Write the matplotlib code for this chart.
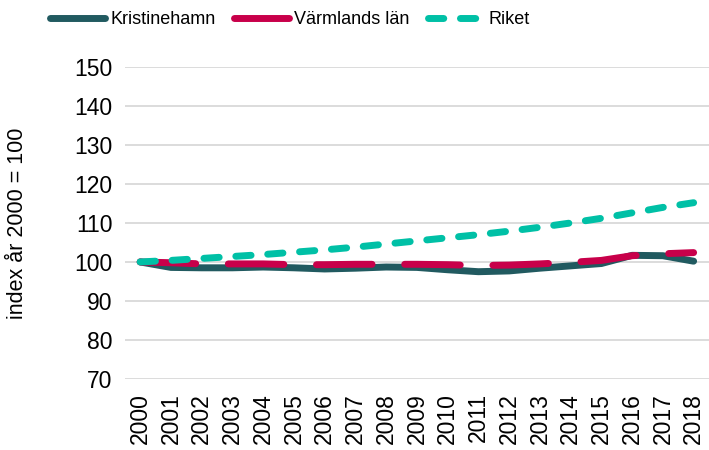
import numpy as np
import matplotlib.pyplot as plt

plt.rcParams['font.family'] = ['Liberation Sans', 'DejaVu Sans']

years = list(range(2000, 2019))
kristinehamn = [100, 98.6, 98.5, 98.5, 98.7, 98.5, 98.2, 98.4, 98.7, 98.6,
                98.0, 97.5, 97.7, 98.4, 99.0, 99.6, 101.7, 101.6, 100.2]
varmland = [100, 99.8, 99.5, 99.5, 99.5, 99.3, 99.3, 99.4, 99.4, 99.4,
            99.3, 99.1, 99.2, 99.5, 99.9, 100.4, 101.6, 102.1, 102.4]
riket = [100, 100.4, 100.9, 101.4, 101.9, 102.5, 103.1, 103.8, 104.6, 105.4,
         106.2, 107.0, 107.9, 108.9, 110.0, 111.2, 112.6, 114.0, 115.2]

yticks = [70, 80, 90, 100, 110, 120, 130, 140, 150]

fig, ax = plt.subplots(figsize=(7.09, 4.5), dpi=100)
fig.subplots_adjust(left=0.176, right=1.0, top=0.851, bottom=0.158)

x = np.arange(len(years))
lw = 5.0
ax.plot(x, kristinehamn, color='#215a60', lw=lw, solid_capstyle='round',
        solid_joinstyle='round', label='Kristinehamn', zorder=3)
ax.plot(x, varmland, color='#c8004a', lw=lw, dash_capstyle='round',
        dashes=(8.0, 4.7), label='Värmlands län', zorder=4)
ax.plot(x, riket, color='#00c0a6', lw=lw, dash_capstyle='round',
        dashes=(2.2, 2.4), label='Riket', zorder=5)

ax.set_xlim(-0.5, len(years) - 0.5)
ax.set_ylim(70, 150)
ax.set_yticks(yticks)
ax.set_xticks(x)
ax.set_xticklabels([str(y) for y in years], rotation=90)
ax.tick_params(axis='both', length=0, labelsize=16.5)
ax.tick_params(axis='y', pad=9)
ax.tick_params(axis='x', pad=10)
ax.yaxis.grid(True, color='#d9d9d9', lw=1.3)
ax.set_axisbelow(True)
for s in ax.spines.values():
    s.set_visible(False)
ax.set_ylabel('index år 2000 = 100', fontsize=15.5)
ax.yaxis.set_label_coords(-0.165, 0.5)

fig.legend(loc='upper left', bbox_to_anchor=(0.058, 0.995), ncol=3,
           frameon=False, fontsize=13, handlelength=3.05, handletextpad=0.3,
           columnspacing=1.0, borderpad=0)

fig.savefig('out.png')
